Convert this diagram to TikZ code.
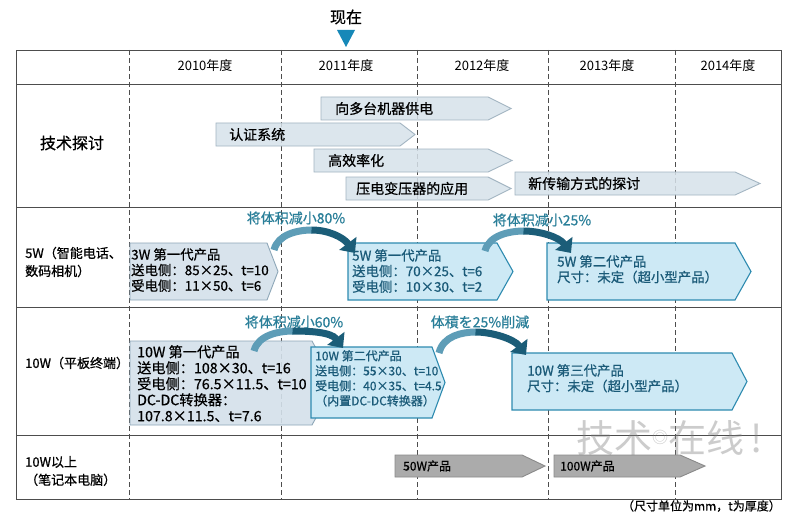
\documentclass[tikz,border=0pt]{standalone}
\usepackage{fontspec}
\setmainfont{Noto Sans CJK SC}
\newfontfamily\mb{Noto Sans CJK SC}[FakeBold=0.7]
\usetikzlibrary{arrows.meta}
\definecolor{gridc}{HTML}{4D4D4D}
\definecolor{techfill}{HTML}{D7E2EA}
\definecolor{techline}{HTML}{A3B5C2}
\definecolor{gfill}{HTML}{D4E1EB}
\definecolor{gline}{HTML}{8EA7B8}
\definecolor{bfill}{HTML}{CDE9F5}
\definecolor{bline}{HTML}{2E8BB0}
\definecolor{grayfill}{HTML}{ABABAB}
\definecolor{grayline}{HTML}{8A8A8A}
\definecolor{marker}{HTML}{1688B8}
\definecolor{tealtxt}{HTML}{2A7F99}
\definecolor{boxtxt}{HTML}{1A5A78}
\definecolor{arrlight}{HTML}{5E9DB7}
\definecolor{arrdark}{HTML}{1B5D78}
\newcommand\pentbox[6][]{\draw[#1] (#2,#3) -- (#6,#3) -- (#4,{(#3+#5)/2}) -- (#6,#5) -- (#2,#5) -- cycle;}
% name, tail x,y, peak x,y, tip x,y
\newcommand\curvarrow[7]{%
  \coordinate (#1-t) at (#2,#3);
  \coordinate (#1-p) at (#4,#5);
  \coordinate (#1-h) at (#6,#7);
  \draw[line width=7pt, arrlight] (#1-t) .. controls ({#2+4},{#5+4}) and ({#4-14},#5) .. (#1-p);
  \draw[line width=7pt, arrdark, -{Triangle[length=12pt,width=21pt]}] ([xshift=-0.5pt]#1-p) .. controls ({#4+16},#5) and ({#6-12},{#7-16}) .. (#1-h);
}
\begin{document}
\begin{tikzpicture}[x=1pt,y=-1pt,
  techbox/.style={draw=techline, fill=techfill, fill opacity=0.85, line width=0.9pt},
  gbox/.style={draw=gline, fill=gfill, fill opacity=0.9, line width=0.9pt},
  bbox/.style={draw=bline, fill=bfill, line width=1.1pt},
  graybox/.style={draw=grayline, fill=grayfill, line width=0.9pt},
  gridln/.style={gridc, line width=0.9pt},
  vgridln/.style={gridc, line width=0.8pt, dash pattern=on 5pt off 3pt},
  hdr/.style={font=\fontsize{13}{15}\selectfont, inner sep=0},
  lbl/.style={font=\mb\fontsize{14}{16}\selectfont, inner sep=0, anchor=west},
  rowlbl/.style={font=\mb\fontsize{13}{18}\selectfont, inner sep=0, anchor=west, align=left},
  btxt/.style={font=\mb\fontsize{13.4}{15.6}\selectfont, inner sep=0, anchor=north west, align=left},
  bigtxt/.style={font=\mb\fontsize{14.2}{16}\selectfont, inner sep=0, anchor=north west, align=left},
  smtxt/.style={font=\mb\fontsize{12}{15}\selectfont, inner sep=0, anchor=north west, align=left, text=boxtxt},
  captxt/.style={font=\mb\fontsize{14}{16}\selectfont, inner sep=0, text=tealtxt},
]
\useasboundingbox (0,0) rectangle (800,516);
\fill[white] (0,0) rectangle (800,516);

% marker
\node[font=\mb\fontsize{16}{18}\selectfont, inner sep=0] (now) at (346,17) {现在};
\fill[marker] (337,30) -- (355,30) -- (346,47) -- cycle;

% table
\draw[gridln] (16,50) rectangle (781,499);
\foreach \yy in {84,207,307,435} \draw[gridln] (16,\yy) -- (781,\yy);
\foreach \xx in {129,281,417,548,675} \draw[vgridln] (\xx,50) -- (\xx,499);

% headers
\node[hdr] (y10) at (205,66) {2010年度};
\node[hdr] (y11) at (346,66) {2011年度};
\node[hdr] (y12) at (482,66) {2012年度};
\node[hdr] (y13) at (607,66) {2013年度};
\node[hdr] (y14) at (728,66) {2014年度};

% row labels
\node[font=\mb\fontsize{16}{18}\selectfont, inner sep=0] (r1) at (72,143) {技术探讨};
\node[rowlbl] (r2) at (25,262) {5W（智能电话、\\数码相机）};
\node[rowlbl] (r3) at (25,363) {10W（平板终端）};
\node[rowlbl] (r4) at (25,471) {10W以上\\（笔记本电脑）};

% tech row
\pentbox[techbox]{321}{97}{511}{120}{488}
\node[lbl] (t1) at (335,108.5) {向多台机器供电};
\pentbox[techbox]{216}{123}{415}{146}{400}
\node[lbl] (t2) at (229,134.5) {认证系统};
\pentbox[techbox]{314}{149}{512}{172}{488}
\node[lbl] (t3) at (328,160.5) {高效率化};
\pentbox[techbox]{346}{177}{511}{200}{488}
\node[lbl] (t4) at (356,188.5) {压电变压器的应用};
\pentbox[techbox]{515}{172}{760}{195}{735}
\node[lbl] (t5) at (528,183.5) {新传输方式的探讨};

% 5W row
\pentbox[gbox]{130}{243}{278}{300}{267}
\node[btxt] (a1) at (131,248) {3W 第一代产品\\送电侧：85×25、t=10\\受电侧：11×50、t=6};
\pentbox[bbox]{348}{243}{513}{300}{497}
\node[btxt, text=boxtxt] (a2) at (352,249) {5W 第一代产品\\送电侧：70×25、t=6\\受电侧：10×30、t=2};
\pentbox[bbox]{547}{243}{751}{300}{735}
\node[btxt, text=boxtxt] (a3) at (557,255) {5W 第二代产品\\尺寸：未定（超小型产品）};

\node[captxt] (c1) at (296,218) {将体积减小80\%};
\curvarrow{k1}{274}{250}{312}{230}{355}{253}
\node[captxt] (c2) at (542,220) {将体积减小25\%};
\curvarrow{k2}{485}{251}{524}{231}{571}{253}

% 10W row
\pentbox[gbox]{130}{341}{335}{425}{312}
\node[bigtxt] (b1) at (137,345) {10W 第一代产品\\送电侧：108×30、t=16\\受电侧：76.5×11.5、t=10\\DC-DC转换器：\\107.8×11.5、t=7.6};
\pentbox[bbox]{311}{347}{445}{418}{432}
\node[smtxt] (b2) at (315,350) {10W 第二代产品\\送电侧：55×30、t=10\\受电侧：40×35、t=4.5\\（内置DC-DC转换器）};
\pentbox[bbox]{512}{353}{747}{410}{732}
\node[btxt, text=boxtxt] (b3) at (527,364) {10W 第三代产品\\尺寸：未定（超小型产品）};

\node[captxt] (c3) at (294,322) {将体积减小60\%};
\curvarrow{k3}{254}{351}{293}{331}{343}{348}
\node[captxt] (c4) at (480,322) {体積を25\%削減};
\curvarrow{k4}{439}{353}{476}{332}{526}{355}

% bottom row
\pentbox[graybox]{395}{455}{545}{477}{522}
\node[font=\mb\fontsize{12}{14}\selectfont, inner sep=0, anchor=west] (g1) at (403,466) {50W产品};
\pentbox[graybox]{554}{455}{705}{477}{680}
\node[font=\mb\fontsize{12}{14}\selectfont, inner sep=0, anchor=west] (g2) at (560,466) {100W产品};

% watermark
\node[font=\fontsize{38}{40}\selectfont, inner sep=0, text=gray, opacity=0.4, anchor=west] (wm) at (576,438) {技术\raisebox{9pt}{\fontsize{16}{16}\selectfont ◎}在线\,!};

% footnote
\node[font=\mb\fontsize{12}{14}\selectfont, inner sep=0, anchor=east] (fn) at (781,506) {（尺寸单位为mm，t为厚度）};
\end{tikzpicture}
\end{document}
